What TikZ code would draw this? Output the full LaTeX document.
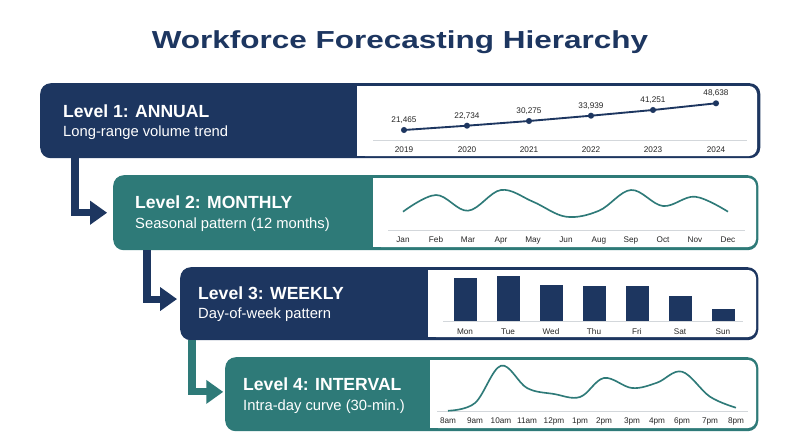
\documentclass[tikz,border=0pt]{standalone}
\usepackage{fontspec}
\setmainfont{Liberation Sans}
\usetikzlibrary{arrows.meta,positioning}

\definecolor{wfnavy}{HTML}{1D3660}
\definecolor{wfteal}{HTML}{2E7A78}
\definecolor{wfgrid}{HTML}{D3D7DB}
\definecolor{wflabel}{HTML}{262626}

\tikzset{
  panel/.style={fill=#1, rounded corners=9pt, minimum height=2.25cm,
    anchor=north west, inner sep=0pt},
  lvltitle/.style={font=\bfseries\fontsize{15}{18}\selectfont, text=white,
    anchor=base west, inner sep=0pt},
  lvlsub/.style={font=\fontsize{12.6}{15}\selectfont, text=white,
    anchor=base west, inner sep=0pt},
  axislabel/.style={font=\fontsize{7}{8}\selectfont, text=wflabel,
    anchor=base, inner sep=0pt},
  axisline/.style={draw=wfgrid, line width=0.8pt},
  flow/.style={draw=#1, line width=6pt,
    -{Triangle[length=14.5pt,width=19.5pt]}}
}

\begin{document}
\begin{tikzpicture}[x=0.03cm, y=-0.03cm]
\useasboundingbox (0,0) rectangle (800,447);
\fill[white] (0,0) rectangle (800,447);

% title
\node[font=\bfseries\fontsize{21}{25}\selectfont, text=wfnavy, inner sep=0pt] (title) at (400,42)
  {\scalebox{1.28}[1]{Workforce Forecasting Hierarchy}};

% panels
\node[panel=wfnavy, minimum width=21.6cm]  (lvl1) at (40,83)  {};
\node[panel=wfteal, minimum width=19.35cm, minimum height=2.25cm] (lvl2) at (113,175) {};
\node[panel=wfnavy, minimum width=17.34cm, minimum height=2.19cm] (lvl3) at (180,267) {};
\node[panel=wfteal, minimum width=15.99cm, minimum height=2.22cm] (lvl4) at (225,357) {};

% chart areas
\fill[white, rounded corners=7pt] (357,86) rectangle (757,156);
\fill[white] (357,86) rectangle (370,156);
\fill[white, rounded corners=7pt] (373,178) rectangle (756,247);
\fill[white] (373,178) rectangle (386,247);
\fill[white, rounded corners=7pt] (428,270) rectangle (756,337);
\fill[white] (428,270) rectangle (441,337);
\fill[white, rounded corners=7pt] (430,360) rectangle (756,428);
\fill[white] (430,360) rectangle (443,428);

% level texts
\node[lvltitle] (t1) at (63,117.7) {Level 1: ANNUAL};
\node[lvlsub]   (s1) at (63,136.7) {Long-range volume trend};
\node[lvltitle] (t2) at (135,208.3) {Level 2: MONTHLY};
\node[lvlsub]   (s2) at (135,228.3) {Seasonal pattern (12 months)};
\node[lvltitle] (t3) at (198,299.3) {Level 3: WEEKLY};
\node[lvlsub]   (s3) at (198,318.3) {Day-of-week pattern};
\node[lvltitle] (t4) at (243,390) {Level 4: INTERVAL};
\node[lvlsub]   (s4) at (243,410) {Intra-day curve (30-min.)};

% annual trend
\draw[axisline] (373,140) -- (747,140);
\draw[wfnavy, line width=1.6pt] plot coordinates
  {(404,130) (467,125.7) (529,121) (591,115.7) (653,110) (716,103.3)};
\foreach \x/\y/\v/\yr in {404/130/21{,}465/2019, 467/125.7/22{,}734/2020,
    529/121/30{,}275/2021, 591/115.7/33{,}939/2022,
    653/110/41{,}251/2023, 716/103.3/48{,}638/2024}{
  \fill[wfnavy] (\x,\y) circle (2.6pt);
  \node[axislabel] at (\x,\y-7.5) {\v};
  \node[axislabel] at (\x,152.7) {\yr};
}

% monthly seasonality
\draw[axisline] (388,230) -- (745,230);
\draw[wfteal, line width=1.4pt] plot[smooth, tension=0.6] coordinates
  {(403,211.7) (436,195) (468,210.7) (501,190) (533,201.7) (566,216.7)
   (599,210.7) (631,190) (663,206) (695,196.7) (728,211.7)};
\foreach \x/\m in {403/Jan, 436/Feb, 468/Mar, 501/Apr, 533/May, 566/Jun,
    599/Aug, 631/Sep, 663/Oct, 695/Nov, 728/Dec}
  \node[axislabel] at (\x,242.7) {\m};

% weekly bars
\foreach \x/\t/\d in {465/277.7/Mon, 508/276/Tue, 551/285/Wed, 594/286/Thu,
    637/286/Fri, 680/296/Sat, 723/309.3/Sun}{
  \fill[wfnavy] (\x-11.5,\t) rectangle (\x+11.5,321.7);
  \node[axislabel] at (\x,334) {\d};
}
\draw[axisline] (443,321.7) -- (743,321.7);

% intraday curve
\draw[axisline] (437,411) -- (748,411);
\draw[wfteal, line width=1.4pt] plot[smooth, tension=0.6] coordinates
  {(448,410.7) (475,403) (501,365.7) (527,388) (554,394) (580,397)
   (604,378) (632,388) (657,382.7) (682,371.7) (710,396.7) (736,407.7)};
\foreach \x/\h in {448/8am, 475/9am, 501/10am, 527/11am, 554/12pm, 580/1pm,
    604/2pm, 632/3pm, 657/4pm, 682/6pm, 710/7pm, 736/8pm}
  \node[axislabel] at (\x,423.3) {\h};

% flow arrows
\draw[flow=wfnavy, shorten >=5pt] ([xshift=1.05cm]lvl1.south west) |- (lvl2.west);
\draw[flow=wfnavy, shorten >=2.5pt] ([xshift=1.02cm]lvl2.south west) |- ([yshift=4pt]lvl3.west);
\draw[flow=wfteal, shorten >=1.5pt] ([xshift=0.36cm]lvl3.south west) |- ([yshift=2pt]lvl4.west);

\end{tikzpicture}
\end{document}
